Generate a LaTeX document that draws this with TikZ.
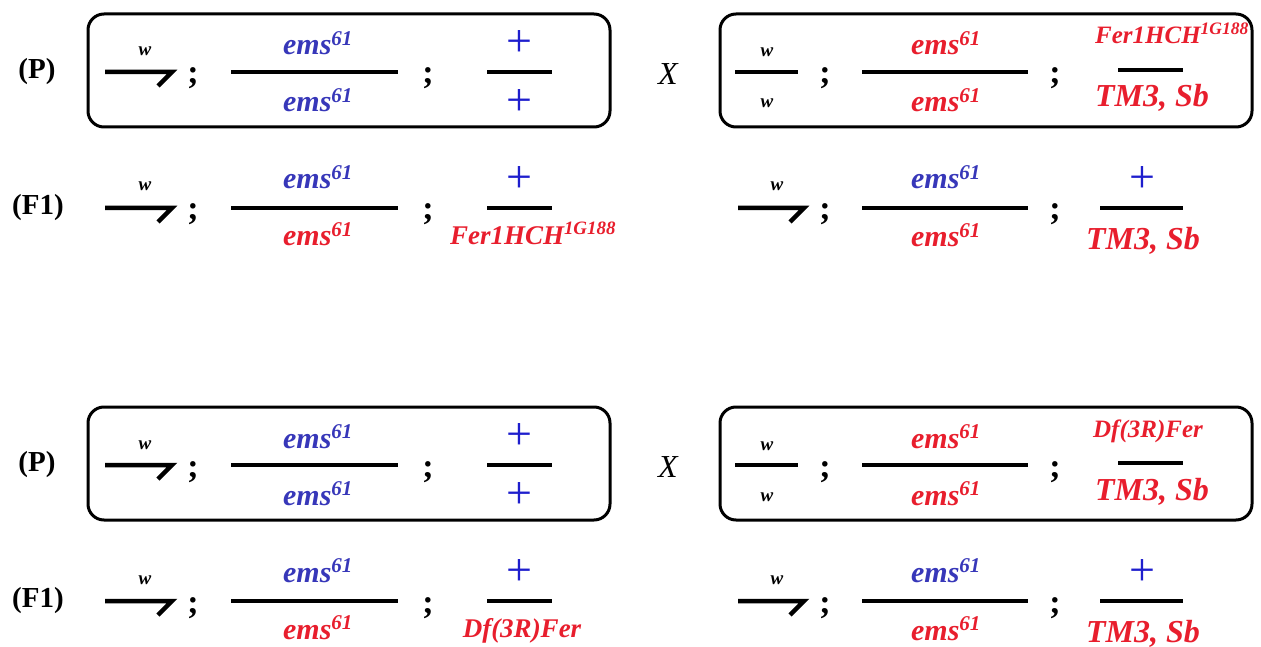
\documentclass[tikz,border=0pt]{standalone}
\usepackage{fontspec}
\setmainfont{Liberation Serif}
\definecolor{gblue}{RGB}{55,55,185}
\definecolor{pblue}{RGB}{30,30,205}
\definecolor{gred}{RGB}{232,30,45}
\tikzset{
  every node/.style={inner sep=0pt, outer sep=0pt},
  lab/.style={font=\fontsize{29}{30}\selectfont\bfseries, anchor=center},
  semi/.style={font=\fontsize{34}{36}\selectfont\bfseries, anchor=base},
  ems/.style={font=\fontsize{30}{32}\selectfont\bfseries\itshape, anchor=base},
  wsty/.style={font=\fontsize{19}{20}\selectfont\bfseries\itshape, anchor=base},
  plus/.style={font=\fontsize{46}{46}\selectfont, text=pblue, anchor=center},
  tm/.style={font=\fontsize{32}{34}\selectfont\bfseries\itshape, text=gred, anchor=base},
  small/.style={font=\fontsize{25}{27}\selectfont\bfseries\itshape, text=gred, anchor=base},
  mid/.style={font=\fontsize{27}{29}\selectfont\bfseries\itshape, text=gred, anchor=base},
  bar/.style={line width=4pt},
  harp/.style={line width=4.5pt, line join=miter},
  gbox/.style={draw, line width=3pt, rounded corners=16pt, anchor=north west},
  bigx/.style={font=\fontsize{32}{34}\selectfont\itshape, anchor=center}
}
\newcommand\ems{ems\textsuperscript{61}}
\newcommand\drawblock[6]{%
% #1 prefix, #2 y offset, #3 box numerator text, #4 its x, #5 F1 denominator text, #6 its x
\begin{scope}[shift={(0,#2)}]
  % ---------- parental row ----------
  \node[lab] (#1P) at (37,72) {(P)};
  \node[gbox, minimum width=522pt, minimum height=113pt] (#1boxL) at (88,14) {};
  \coordinate (#1a1) at (105,72);
  \coordinate (#1a2) at (172,72);
  \coordinate (#1a3) at (158,86);
  \draw[harp] (#1a1) -- (#1a2) -- (#1a3);
  \node[wsty] (#1w1) at (145,56) {w};
  \node[semi] (#1s1) at (193,84) {;};
  \coordinate (#1f1a) at (231,72); \coordinate (#1f1b) at (398,72);
  \draw[bar] (#1f1a) -- (#1f1b);
  \node[ems, text=gblue] (#1e1) at (318,55) {\ems};
  \node[ems, text=gblue] (#1e2) at (318,112) {\ems};
  \node[semi] (#1s2) at (428,84) {;};
  \coordinate (#1f2a) at (487,72); \coordinate (#1f2b) at (552,72);
  \draw[bar] (#1f2a) -- (#1f2b);
  \node[plus] (#1p1) at (519,44) {+};
  \node[plus] (#1p2) at (519,103) {+};
  \node[bigx] (#1X) at (668,74) {X};
  \node[gbox, minimum width=532pt, minimum height=113pt] (#1boxR) at (720,14) {};
  \coordinate (#1f3a) at (735,72); \coordinate (#1f3b) at (798,72);
  \draw[bar] (#1f3a) -- (#1f3b);
  \node[wsty] (#1w2) at (767,57) {w};
  \node[wsty] (#1w3) at (767,108) {w};
  \node[semi] (#1s3) at (825,84) {;};
  \coordinate (#1f4a) at (862,72); \coordinate (#1f4b) at (1028,72);
  \draw[bar] (#1f4a) -- (#1f4b);
  \node[ems, text=gred] (#1e3) at (946,55) {\ems};
  \node[ems, text=gred] (#1e4) at (946,112) {\ems};
  \node[semi] (#1s4) at (1055,84) {;};
  \coordinate (#1f5a) at (1118,70); \coordinate (#1f5b) at (1183,70);
  \draw[bar] (#1f5a) -- (#1f5b);
  \node[small] (#1t1) at (#4,44) {#3};
  \node[tm] (#1t2) at (1152,107) {TM3, Sb};
  % ---------- F1 row ----------
  \node[lab] (#1F) at (38,208) {(F1)};
  \coordinate (#1b1) at (105,208);
  \coordinate (#1b2) at (172,208);
  \coordinate (#1b3) at (158,222);
  \draw[harp] (#1b1) -- (#1b2) -- (#1b3);
  \node[wsty] (#1w4) at (145,191) {w};
  \node[semi] (#1s5) at (193,220) {;};
  \coordinate (#1g1a) at (231,208); \coordinate (#1g1b) at (398,208);
  \draw[bar] (#1g1a) -- (#1g1b);
  \node[ems, text=gblue] (#1e5) at (318,189) {\ems};
  \node[ems, text=gred] (#1e6) at (318,246) {\ems};
  \node[semi] (#1s6) at (428,220) {;};
  \coordinate (#1g2a) at (487,208); \coordinate (#1g2b) at (552,208);
  \draw[bar] (#1g2a) -- (#1g2b);
  \node[plus] (#1p3) at (519,180) {+};
  \node[mid] (#1t3) at (#6,244) {#5};
  \coordinate (#1c1) at (738,208);
  \coordinate (#1c2) at (804,208);
  \coordinate (#1c3) at (790,222);
  \draw[harp] (#1c1) -- (#1c2) -- (#1c3);
  \node[wsty] (#1w5) at (777,191) {w};
  \node[semi] (#1s7) at (825,220) {;};
  \coordinate (#1g3a) at (862,208); \coordinate (#1g3b) at (1028,208);
  \draw[bar] (#1g3a) -- (#1g3b);
  \node[ems, text=gblue] (#1e7) at (946,189) {\ems};
  \node[ems, text=gred] (#1e8) at (946,247) {\ems};
  \node[semi] (#1s8) at (1055,220) {;};
  \coordinate (#1g4a) at (1100,208); \coordinate (#1g4b) at (1183,208);
  \draw[bar] (#1g4a) -- (#1g4b);
  \node[plus] (#1p4) at (1142,180) {+};
  \node[tm] (#1t4) at (1143,249) {TM3, Sb};
\end{scope}}
\begin{document}
\begin{tikzpicture}[x=1pt,y=-1pt]
\useasboundingbox (0,0) rectangle (1261,647);
\drawblock{a}{0}{Fer1HCH\textsuperscript{1G188}}{1172}{Fer1HCH\textsuperscript{1G188}}{533}
\drawblock{b}{393}{Df(3R)Fer}{1148}{Df(3R)Fer}{522}
\end{tikzpicture}
\end{document}
